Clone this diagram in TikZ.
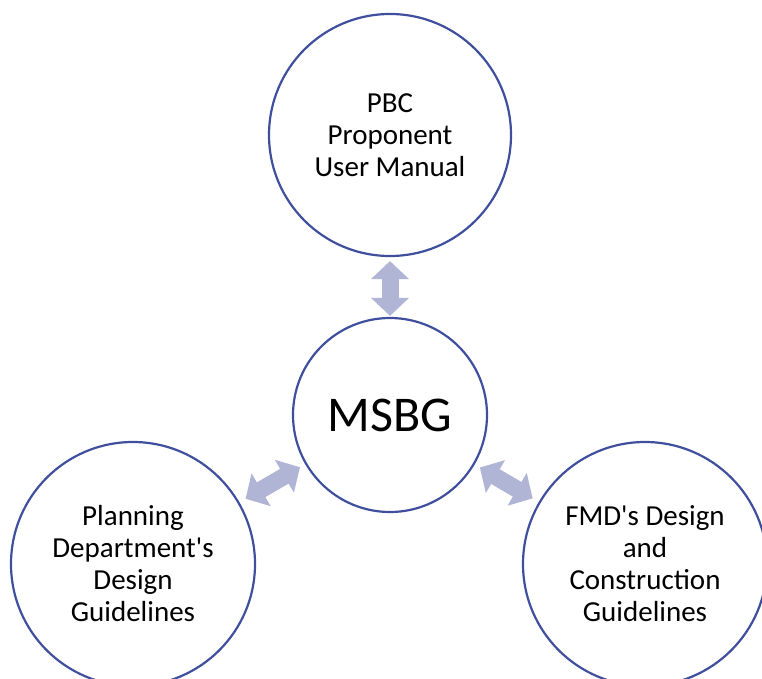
\documentclass[tikz,border=0pt]{standalone}
\usepackage{fontspec}
\setmainfont{Carlito}
\usetikzlibrary{arrows.meta}
\definecolor{ringc}{HTML}{3F4F9E}
\definecolor{arrowc}{HTML}{B0B5D6}
\begin{document}
\begin{tikzpicture}[x=1pt,y=-1pt,
  ring/.style={circle,draw=ringc,line width=2.2pt,minimum size=#1,inner sep=0pt,align=center,
    font=\fontsize{29}{32}\selectfont},
  link/.style={draw=arrowc,line width=17pt,
    {Triangle[length=18pt,width=37pt]}-{Triangle[length=18pt,width=37pt]}}]
\useasboundingbox (0,0) rectangle (762,679);
\node[ring=242pt] (pbc) at (390,135) {PBC\\Proponent\\User Manual};
\node[ring=194pt,font=\fontsize{50}{56}\selectfont] (msbg) at (390,415) {MSBG};
\node[ring=244pt] (plan) at (133,564) {Planning\\Department\textquotesingle s\\Design\\Guidelines};
\node[ring=244pt] (fmd) at (645,564) {FMD\textquotesingle s Design\\and\\Construction\\Guidelines};
\draw[link,shorten <=4pt,shorten >=1pt] (pbc) -- (msbg);
\draw[link,shorten <=7pt,shorten >=6pt] (plan) -- (msbg);
\draw[link,shorten <=7pt,shorten >=6pt] (fmd) -- (msbg);
\end{tikzpicture}
\end{document}
